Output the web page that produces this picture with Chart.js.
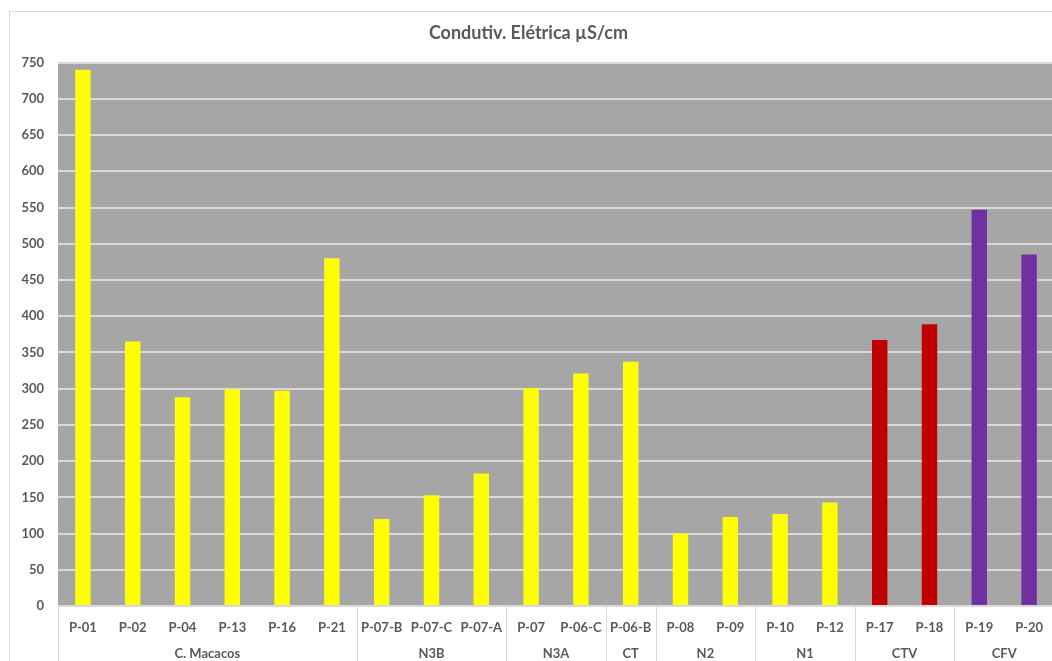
<!DOCTYPE html>
<html>
<head>
<meta charset="utf-8">
<script src="https://cdn.jsdelivr.net/npm/chart.js@4/dist/chart.umd.min.js"></script>
<style>
  html, body { margin: 0; padding: 0; background: #ffffff; overflow: hidden; width: 1052px; height: 661px; }
  #frame { position: absolute; left: 9px; top: 11px; width: 1100px; height: 700px; border: 1px solid #d9d9d9; box-sizing: border-box; }
  #wrap { position: absolute; left: 0; top: 0; width: 1057px; height: 661px; }
</style>
</head>
<body>
<div id="frame"></div>
<div id="wrap"><canvas id="c" width="1057" height="661"></canvas></div>
<script>
// ---- data ----
const chartTitle = "Condutiv. Elétrica µS/cm";
const categories = ["P-01","P-02","P-04","P-13","P-16","P-21","P-07-B","P-07-C","P-07-A","P-07","P-06-C","P-06-B","P-08","P-09","P-10","P-12","P-17","P-18","P-19","P-20"];
const values = [740, 365, 288, 299, 297, 480, 120, 153, 183, 301, 321, 337, 100, 123, 127, 143, 367, 389, 547, 485];
const groupNames = ["C. Macacos","N3B","N3A","CT","N2","N1","CTV","CFV"];
const groupSizes = [6, 3, 2, 1, 2, 2, 2, 2];
const yTicks = [0,50,100,150,200,250,300,350,400,450,500,550,600,650,700,750];

// ---- styles ----
const groupColors = { "CTV": "#c00000", "CFV": "#7030a0" };
const defaultColor = "#ffff00";
const textColor = "#595959";
const fontFam = "Lato, 'Open Sans', sans-serif";

const barColors = [];
groupNames.forEach((g, i) => {
  for (let k = 0; k < groupSizes[i]; k++) barColors.push(groupColors[g] || defaultColor);
});

const bgPlugin = {
  id: 'plotBg',
  beforeDraw(chart) {
    const { ctx, chartArea: a } = chart;
    ctx.save();
    ctx.fillStyle = '#a6a6a6';
    ctx.fillRect(a.left, a.top, a.right - a.left, a.bottom - a.top);
    ctx.restore();
  }
};

const groupPlugin = {
  id: 'groups',
  afterDraw(chart) {
    const { ctx, chartArea: a } = chart;
    const xs = chart.scales.x;
    const step = xs.getPixelForValue(1) - xs.getPixelForValue(0);
    ctx.save();
    ctx.strokeStyle = '#d9d9d9';
    ctx.lineWidth = 1;
    ctx.fillStyle = textColor;
    ctx.font = "bold 13px " + fontFam;
    ctx.textAlign = 'center';
    ctx.textBaseline = 'middle';
    let start = 0;
    groupNames.forEach((g, i) => {
      const x0 = xs.getPixelForValue(start) - step / 2;
      const x1 = xs.getPixelForValue(start + groupSizes[i] - 1) + step / 2;
      ctx.beginPath();
      ctx.moveTo(Math.round(x0) + 0.5, a.bottom);
      ctx.lineTo(Math.round(x0) + 0.5, chart.height);
      ctx.stroke();
      ctx.fillText(g, (x0 + x1) / 2, 654);
      start += groupSizes[i];
    });
    ctx.restore();
  }
};

new Chart(document.getElementById('c'), {
  type: 'bar',
  data: {
    labels: categories,
    datasets: [{
      data: values,
      backgroundColor: barColors,
      borderWidth: 0,
      barPercentage: 0.31,
      categoryPercentage: 1.0
    }]
  },
  options: {
    responsive: false,
    animation: false,
    layout: { padding: { top: 11, left: 0, right: 0, bottom: 0 } },
    plugins: {
      legend: { display: false },
      tooltip: { enabled: false },
      title: {
        display: true,
        text: chartTitle,
        color: textColor,
        font: { family: fontFam, size: 18, weight: 'bold' },
        padding: { top: 11, bottom: 19 }
      }
    },
    scales: {
      x: {
        grid: { display: false, drawTicks: false },
        border: { display: false },
        ticks: {
          color: textColor,
          font: { family: fontFam, size: 13, weight: 'bold' },
          padding: 14,
          autoSkip: false,
          maxRotation: 0
        },
        afterFit(s) { s.height = 55; }
      },
      y: {
        min: 0,
        max: 750,
        afterBuildTicks(s) { s.ticks = yTicks.map(v => ({ value: v })); },
        grid: { color: '#d9d9d9', lineWidth: 2, drawTicks: false },
        border: { display: false },
        ticks: {
          color: textColor,
          font: { family: fontFam, size: 13, weight: 'bold' },
          padding: 14
        },
        afterFit(s) { s.width = 58; }
      }
    }
  },
  plugins: [bgPlugin, groupPlugin]
});
</script>
</body>
</html>
